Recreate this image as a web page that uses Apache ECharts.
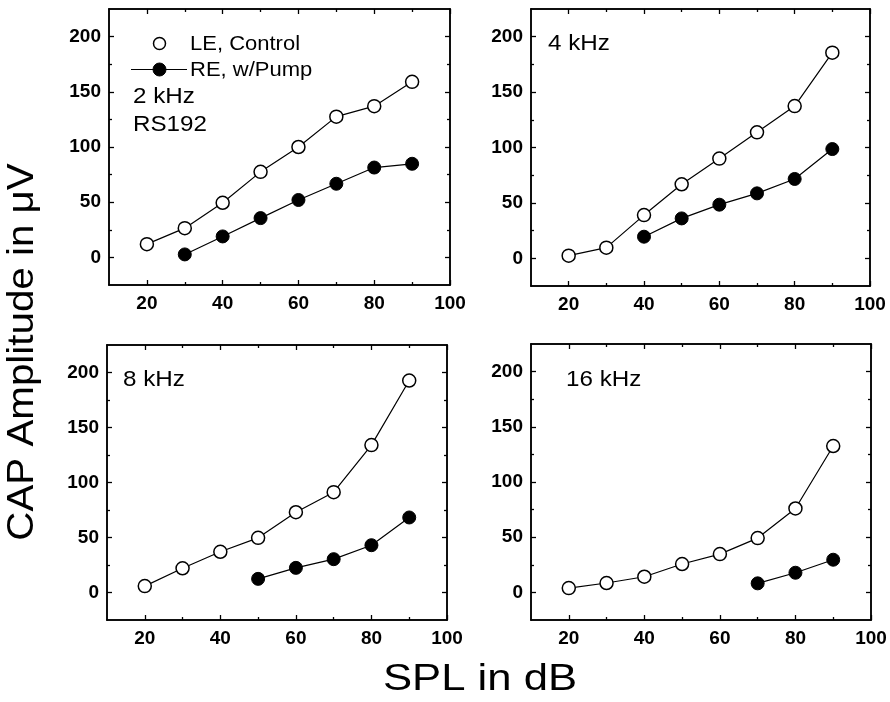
<!DOCTYPE html>
<html><head><meta charset="utf-8">
<script src="https://cdn.jsdelivr.net/npm/echarts@6/dist/echarts.min.js"></script>
<style>html,body{margin:0;padding:0;background:#fff}#c{width:890px;height:702px}</style>
</head><body><div id="c"></div>
<script>
// ---- data ----
const spl = [20, 30, 40, 50, 60, 70, 80, 90];
const le2k  = [12, 26.5, 49.5, 77.5, 100, 127.5, 137, 159];
const re2k  = [null, 2.7, 19, 35.6, 52, 66.7, 81.4, 84.8];
const le4k  = [2.4, 9.6, 39, 66.8, 90, 113.7, 137.4, 185.6];
const re4k  = [null, null, 19.5, 36, 48.4, 58.6, 71.6, 98.6];
const le8k  = [5.8, 22, 37, 49.7, 73, 91.2, 134, 192.7];
const re8k  = [null, null, null, 12.4, 22.4, 30.3, 43, 68.2];
const le16k = [3.9, 8.5, 14.2, 25.7, 34.7, 49.2, 76, 132.6];
const re16k = [null, null, null, null, null, 8.2, 17.8, 29.6];
const panelLabels = ['2 kHz', '4 kHz', '8 kHz', '16 kHz'];
const seriesNames = ['LE, Control', 'RE, w/Pump'];
const xMajor = [20, 40, 60, 80, 100];
const xMinor = [30, 50, 70, 90];
const yMajor = [0, 50, 100, 150, 200];
const yMinor = [25, 75, 125, 175];
const xMin = 10, xMax = 100, yMin = -25, yMax = 225;

const panels = [
  {le: le2k, re: re2k},
  {le: le4k, re: re4k},
  {le: le8k, re: re8k},
  {le: le16k, re: re16k}
];
const grids = [
  {left: 109, top: 9, width: 341, height: 276},
  {left: 531, top: 9, width: 339, height: 277},
  {left: 107, top: 345, width: 340, height: 275},
  {left: 531, top: 344, width: 340, height: 276}
];

const FONT = '"Liberation Sans", Arial, Helvetica, sans-serif';
const axLine = {show: true, onZero: false, lineStyle: {color: '#000', width: 1.5}};

function mkX(gi, pos, ticks, len, labels) {
  return {
    type: 'value', gridIndex: gi, position: pos, min: xMin, max: xMax,
    axisLine: axLine,
    axisTick: {show: true, inside: true, length: len, customValues: ticks, lineStyle: {color: '#000', width: 1.3}},
    axisLabel: {show: labels, customValues: xMajor, fontSize: 19, fontWeight: 'bold', color: '#000', fontFamily: FONT, margin: 9},
    splitLine: {show: false}
  };
}
function mkY(gi, pos, ticks, len, labels) {
  return {
    type: 'value', gridIndex: gi, position: pos, min: yMin, max: yMax,
    axisLine: axLine,
    axisTick: {show: true, inside: true, length: len, customValues: ticks, lineStyle: {color: '#000', width: 1.3}},
    axisLabel: {show: labels, customValues: yMajor, fontSize: 19, fontWeight: 'bold', color: '#000', fontFamily: FONT, margin: 8},
    splitLine: {show: false}
  };
}

const xAxis = [], yAxis = [], series = [];
panels.forEach((p, gi) => {
  const base = xAxis.length;
  xAxis.push(mkX(gi, 'bottom', xMajor, 5, true));
  xAxis.push(mkX(gi, 'bottom', xMinor, 3, false));
  xAxis.push(mkX(gi, 'top', xMajor, 5, false));
  xAxis.push(mkX(gi, 'top', xMinor, 3, false));
  yAxis.push(mkY(gi, 'left', yMajor, 5, true));
  yAxis.push(mkY(gi, 'left', yMinor, 3, false));
  yAxis.push(mkY(gi, 'right', yMajor, 5, false));
  yAxis.push(mkY(gi, 'right', yMinor, 3, false));
  const toPts = arr => spl.map((x, i) => [x, arr[i]]).filter(d => d[1] != null);
  series.push({
    name: seriesNames[0], type: 'line', xAxisIndex: base, yAxisIndex: base,
    data: toPts(p.le), symbol: 'circle', symbolSize: 13, showAllSymbol: true,
    lineStyle: {color: '#000', width: 1.2},
    itemStyle: {color: '#fff', borderColor: '#000', borderWidth: 1.5},
    animation: false, z: 3
  });
  series.push({
    name: seriesNames[1], type: 'line', xAxisIndex: base, yAxisIndex: base,
    data: toPts(p.re), symbol: 'circle', symbolSize: 13, showAllSymbol: true,
    lineStyle: {color: '#000', width: 1.2},
    itemStyle: {color: '#000', borderColor: '#000', borderWidth: 1},
    animation: false, z: 3
  });
});

function txt(x, y, text, size, sx, extra) {
  return Object.assign({
    type: 'text', x: x, y: y, scaleX: sx, z: 10,
    style: {text: text, fontSize: size, fontFamily: FONT, fill: '#000', align: 'left', verticalAlign: 'middle'}
  }, extra || {});
}

const graphic = [
  // legend
  {type: 'circle', shape: {cx: 159.5, cy: 43.5, r: 6}, style: {fill: '#fff', stroke: '#000', lineWidth: 1.5}, z: 10},
  {type: 'line', shape: {x1: 131, y1: 69.5, x2: 187, y2: 69.5}, style: {stroke: '#000', lineWidth: 1}, z: 10},
  {type: 'circle', shape: {cx: 159.5, cy: 69.5, r: 6.5}, style: {fill: '#000', stroke: '#000', lineWidth: 1}, z: 11},
  txt(190, 44, seriesNames[0], 20, 1.1),
  txt(190, 70, seriesNames[1], 20, 1.1),
  // panel labels
  txt(133, 97, panelLabels[0], 22, 1.1),
  txt(133, 125, 'RS192', 22, 1.1),
  txt(548, 44, panelLabels[1], 22, 1.1),
  txt(123, 380, panelLabels[2], 22, 1.1),
  txt(566, 380, panelLabels[3], 22, 1.1),
  // axis titles
  {type: 'text', x: 23, y: 352, rotation: Math.PI / 2, scaleX: 1.12, z: 10,
   style: {text: 'CAP Amplitude in μV', fontSize: 36, fontFamily: FONT, fill: '#000', align: 'center', verticalAlign: 'middle'}},
  {type: 'text', x: 480, y: 680, scaleX: 1.18, z: 10,
   style: {text: 'SPL in dB', fontSize: 37, fontFamily: FONT, fill: '#000', align: 'center', verticalAlign: 'middle'}}
];

const chart = echarts.init(document.getElementById('c'), null, {renderer: 'canvas'});
chart.setOption({
  animation: false,
  backgroundColor: '#fff',
  grid: grids,
  xAxis: xAxis,
  yAxis: yAxis,
  series: series,
  graphic: graphic
});
</script>
</body></html>
